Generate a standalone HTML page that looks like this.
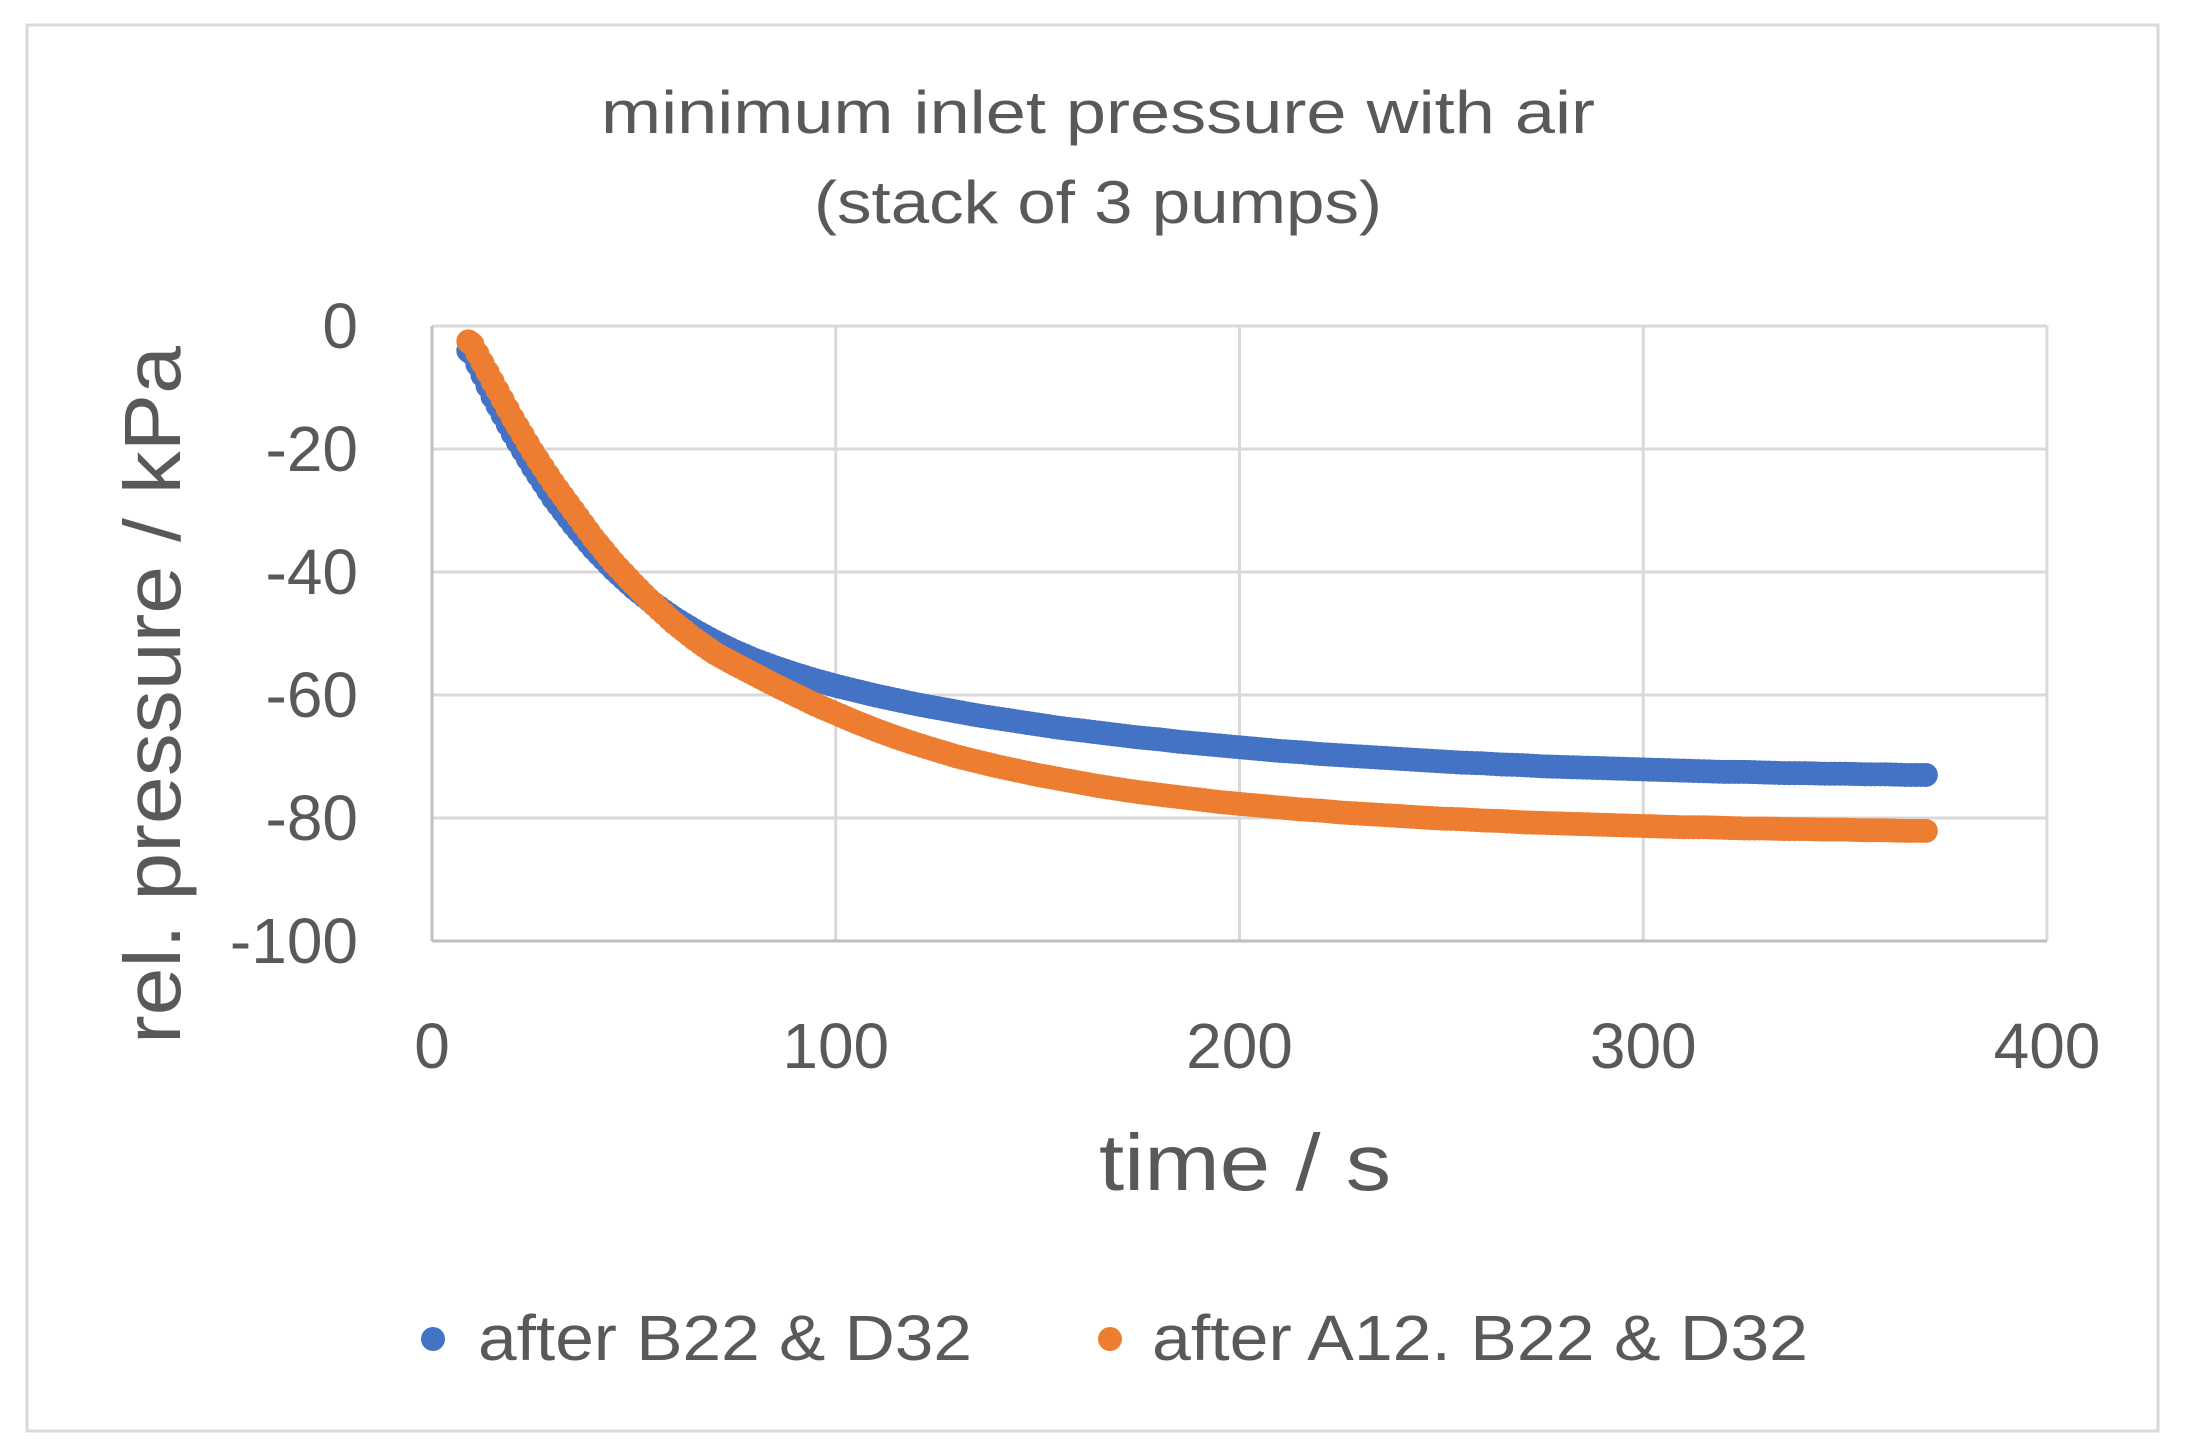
<!DOCTYPE html>
<html><head><meta charset="utf-8"><style>
html,body{margin:0;padding:0;background:#fff;}
svg{display:block;font-family:"Liberation Sans",sans-serif;}
</style></head><body>
<svg id="chart" width="2191" height="1445" viewBox="0 0 2191 1445">
<rect x="27" y="25" width="2131" height="1406" fill="#fff" stroke="#d9d9d9" stroke-width="3"/>
<text x="1098" y="133" text-anchor="middle" font-size="60" fill="#595959" textLength="994" lengthAdjust="spacingAndGlyphs">minimum inlet pressure with air</text>
<text x="1098" y="223" text-anchor="middle" font-size="60" fill="#595959" textLength="568" lengthAdjust="spacingAndGlyphs">(stack of 3 pumps)</text>
<g id="grid"></g>
<g id="ticks"></g>
<g id="series"></g>
<text x="1245" y="1190" text-anchor="middle" font-size="80" fill="#595959" textLength="292" lengthAdjust="spacingAndGlyphs">time / s</text>
<text transform="translate(180,695) rotate(-90)" text-anchor="middle" font-size="80" fill="#595959" textLength="698" lengthAdjust="spacingAndGlyphs">rel. pressure / kPa</text>
<g>
<circle cx="433" cy="1339" r="12" fill="#4472c4"/>
<text x="478" y="1360" font-size="64" fill="#595959" textLength="494" lengthAdjust="spacingAndGlyphs">after B22 &amp; D32</text>
<circle cx="1110" cy="1339" r="12" fill="#ed7d31"/>
<text x="1152" y="1360" font-size="64" fill="#595959" textLength="656" lengthAdjust="spacingAndGlyphs">after A12. B22 &amp; D32</text>
</g>
</svg>
<script>
const times = [9,10,15,20,25,30,35,40,45,50,55,60,65,70,75,80,85,90,95,100,105,110,115,120,125,130,135,140,145,150,155,160,165,170,175,180,185,190,195,200,205,210,215,220,225,230,235,240,245,250,255,260,265,270,275,280,285,290,295,300,305,310,315,320,325,330,335,340,345,350,355,360,365,370];
const blueValues = [-4,-4.5,-11.5,-17.5,-23,-28,-32.3,-36.2,-39.6,-42.6,-45.2,-47.5,-49.5,-51.3,-52.9,-54.3,-55.5,-56.6,-57.6,-58.5,-59.3,-60.1,-60.8,-61.5,-62.1,-62.7,-63.3,-63.8,-64.3,-64.8,-65.3,-65.7,-66.1,-66.5,-66.9,-67.2,-67.6,-67.9,-68.2,-68.5,-68.8,-69.1,-69.3,-69.6,-69.8,-70,-70.2,-70.4,-70.6,-70.8,-71,-71.1,-71.3,-71.4,-71.6,-71.7,-71.8,-71.9,-72,-72.1,-72.2,-72.3,-72.4,-72.5,-72.5,-72.6,-72.7,-72.7,-72.8,-72.8,-72.9,-72.9,-73,-73];
const orangeValues = [-2.5,-3,-9,-15,-20.5,-25.5,-30,-34.5,-38.5,-42,-45.3,-48.3,-50.9,-53.2,-55,-56.7,-58.4,-60,-61.6,-63,-64.4,-65.7,-66.9,-68,-69,-70,-70.8,-71.6,-72.3,-73,-73.6,-74.2,-74.8,-75.3,-75.8,-76.2,-76.6,-77,-77.4,-77.7,-78,-78.3,-78.6,-78.8,-79.1,-79.3,-79.5,-79.7,-79.9,-80.1,-80.2,-80.4,-80.5,-80.7,-80.8,-80.9,-81,-81.1,-81.2,-81.3,-81.4,-81.5,-81.5,-81.6,-81.7,-81.7,-81.8,-81.8,-81.9,-81.9,-82,-82,-82.1,-82.1];
const xTicks = [0,100,200,300,400];
const yTicks = [0,-20,-40,-60,-80,-100];

const NS = "http://www.w3.org/2000/svg";
const L = 432, R = 2047, T = 326, B = 941;
const xs = v => L + (v - 0) / 400 * (R - L);
const ys = v => T + (0 - v) / 100 * (B - T);
function mk(tag, attrs, parent) {
  const e = document.createElementNS(NS, tag);
  for (const k in attrs) e.setAttribute(k, attrs[k]);
  parent.appendChild(e);
  return e;
}
const grid = document.getElementById('grid');
const ticks = document.getElementById('ticks');
const series = document.getElementById('series');
yTicks.forEach(v => {
  const ln = mk('line', {x1: L, x2: R, y1: ys(v), y2: ys(v), stroke: '#d9d9d9', 'stroke-width': 3}, grid);
  
  
  const t = mk('text', {x: 358, y: ys(v) + 22, 'text-anchor': 'end', 'font-size': 64, fill: '#595959'}, ticks);
  t.textContent = v;
  
  
});
xTicks.forEach(v => {
  const ln = mk('line', {x1: xs(v), x2: xs(v), y1: T, y2: B, stroke: '#d9d9d9', 'stroke-width': 3}, grid);
  
  
  const t = mk('text', {x: xs(v), y: 1068, 'text-anchor': 'middle', 'font-size': 64, fill: '#595959'}, ticks);
  t.textContent = v;
  
  
});
const axY = mk('line', {x1: L, x2: L, y1: T, y2: B, stroke: '#bfbfbf', 'stroke-width': 3}, grid);


const axX = mk('line', {x1: L, x2: R, y1: B, y2: B, stroke: '#bfbfbf', 'stroke-width': 3}, grid);



function drawSeries(vals, color, name) {
  const g = mk('g', {fill: color}, series);
  
  
  for (let i = 0; i < times.length - 1; i++) {
    for (let s = 0; s < 4; s++) {
      const f = s / 4;
      const t = times[i] + (times[i+1] - times[i]) * f;
      const v = vals[i] + (vals[i+1] - vals[i]) * f;
      const c = mk('circle', {cx: xs(t), cy: ys(v), r: 12}, g);
      
      
    }
  }
  const n = times.length - 1;
  const c = mk('circle', {cx: xs(times[n]), cy: ys(vals[n]), r: 12}, g);
  
  
}
drawSeries(blueValues, '#4472c4', 'series-after-b22-d32');
drawSeries(orangeValues, '#ed7d31', 'series-after-a12-b22-d32');
</script>
</body></html>
